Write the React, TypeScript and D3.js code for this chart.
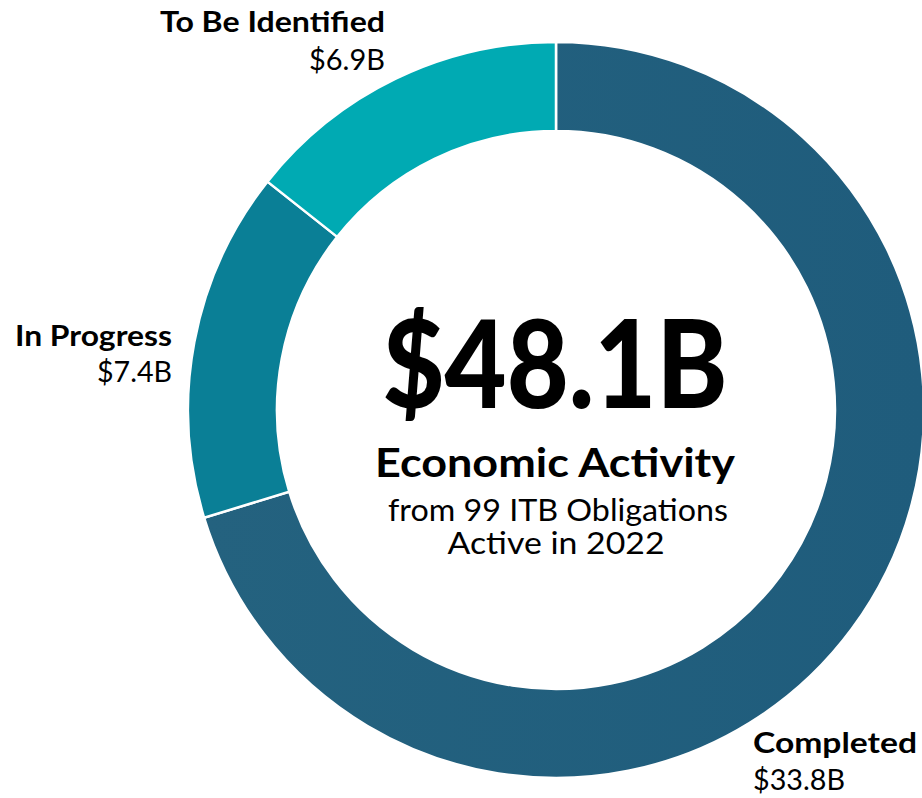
import React from 'react';
import * as d3 from 'd3';

const width = 922;
const height = 798;

const categories = ['Completed', 'In Progress', 'To Be Identified'];
const values = [33.8, 7.4, 6.9];
const valueLabels = ['$33.8B', '$7.4B', '$6.9B'];
const colors = ['#22607f', '#0a7f96', '#00aab3'];

const totalLabel = '$48.1B';
const centerLines = ['Economic Activity', 'from 99 ITB Obligations', 'Active in 2022'];

const font = 'Lato, "Open Sans", sans-serif';

// label placement: anchor, x, name baseline, value baseline, widths
const labelPos = [
  { anchor: 'start', x: 753, y1: 753, y2: 790, w1: 164, w2: 92 },
  { anchor: 'end', x: 172, y1: 346, y2: 382, w1: 157, w2: 75 },
  { anchor: 'end', x: 385, y1: 32, y2: 70, w1: 225, w2: 76 },
];

export default function App() {
  const cx = 556;
  const cy = 410;
  const outer = 368;
  const inner = 279;

  const data = categories.map((c, i) => ({ name: c, value: values[i] }));
  const pie = d3.pie<{ name: string; value: number }>().sort(null).value(d => d.value);
  const arc = d3.arc<d3.PieArcDatum<{ name: string; value: number }>>()
    .innerRadius(inner)
    .outerRadius(outer);
  const arcs = pie(data);

  return (
    <svg width={width} height={height} style={{ position: 'absolute', left: 0, top: 0, background: '#fff' }}>
      <defs>
        <linearGradient id="gComp" x1="0" y1="0" x2="1" y2="0">
          <stop offset="0%" stopColor="#24627f" />
          <stop offset="100%" stopColor="#1f5c7c" />
        </linearGradient>
      </defs>
      <g transform={`translate(${cx},${cy})`}>
        {arcs.map((a, i) => (
          <path key={i} d={arc(a) || ''} fill={i === 0 ? 'url(#gComp)' : colors[i]} stroke="#fff" strokeWidth={2.5} />
        ))}
      </g>

      <text x={555} y={408} textAnchor="middle" fontFamily={font} fontWeight={900} fontSize={122}
        textLength={345} lengthAdjust="spacingAndGlyphs" fill="#000">{totalLabel}</text>
      <text x={555} y={477} textAnchor="middle" fontFamily={font} fontWeight={700} fontSize={41}
        textLength={360} lengthAdjust="spacingAndGlyphs" fill="#000">{centerLines[0]}</text>
      <text x={558} y={521} textAnchor="middle" fontFamily={font} fontWeight={400} fontSize={30}
        textLength={340} lengthAdjust="spacingAndGlyphs" fill="#000">{centerLines[1]}</text>
      <text x={556} y={554} textAnchor="middle" fontFamily={font} fontWeight={400} fontSize={30}
        textLength={217} lengthAdjust="spacingAndGlyphs" fill="#000">{centerLines[2]}</text>

      {labelPos.map((p, i) => (
        <g key={i}>
          <text x={p.x} y={p.y1} textAnchor={p.anchor} fontFamily={font} fontWeight={700} fontSize={29}
            textLength={p.w1} lengthAdjust="spacingAndGlyphs" fill="#000">{categories[i]}</text>
          <text x={p.x} y={p.y2} textAnchor={p.anchor} fontFamily={font} fontWeight={400} fontSize={29}
            textLength={p.w2} lengthAdjust="spacingAndGlyphs" fill="#000">{valueLabels[i]}</text>
        </g>
      ))}
    </svg>
  );
}
